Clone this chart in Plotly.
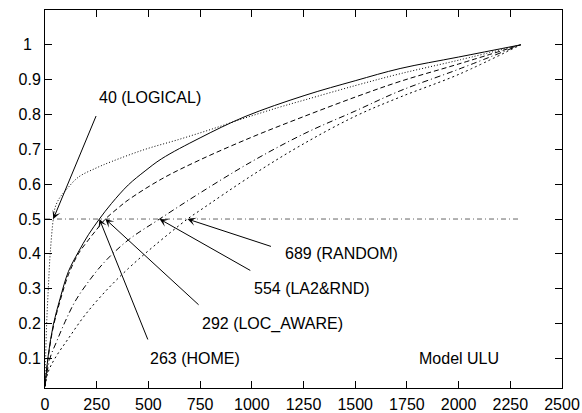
import plotly.graph_objects as go

# ---- data ----
home_x = [0, 16, 40, 73, 113, 161, 210, 263, 322, 403, 484, 564, 750, 967, 1257, 1500, 1717, 2000, 2300]
home_y = [0.02, 0.11, 0.196, 0.272, 0.349, 0.405, 0.455, 0.5, 0.545, 0.598, 0.638, 0.673, 0.733, 0.794, 0.855, 0.897, 0.932, 0.965, 1.0]

logical_x = [0, 3, 8, 16, 25, 40, 50, 70, 97, 161, 242, 322, 484, 645, 806, 967, 1128, 1257, 1500, 1717, 2000, 2300]
logical_y = [0.02, 0.1, 0.2, 0.3, 0.4, 0.5, 0.535, 0.56, 0.58, 0.62, 0.645, 0.665, 0.7, 0.728, 0.758, 0.79, 0.82, 0.842, 0.883, 0.917, 0.956, 1.0]

locaware_x = [0, 16, 40, 73, 113, 161, 210, 250, 292, 350, 403, 564, 750, 1000, 1233, 1500, 1717, 2000, 2300]
locaware_y = [0.02, 0.105, 0.19, 0.265, 0.34, 0.4, 0.44, 0.47, 0.5, 0.53, 0.555, 0.615, 0.67, 0.735, 0.79, 0.85, 0.895, 0.945, 1.0]

la2rnd_x = [0, 24, 56, 97, 145, 210, 290, 403, 554, 750, 1000, 1257, 1500, 1717, 2000, 2300]
la2rnd_y = [0.02, 0.1, 0.148, 0.205, 0.263, 0.32, 0.378, 0.44, 0.5, 0.575, 0.665, 0.746, 0.81, 0.868, 0.93, 1.0]

random_x = [0, 16, 48, 113, 193, 290, 403, 532, 689, 750, 1000, 1233, 1500, 1717, 2000, 2300]
random_y = [0.02, 0.062, 0.1, 0.157, 0.224, 0.291, 0.358, 0.425, 0.5, 0.525, 0.625, 0.71, 0.795, 0.85, 0.915, 1.0]

half_x = [0, 2300]
half_y = [0.5, 0.5]

x_ticks = [0, 250, 500, 750, 1000, 1250, 1500, 1750, 2000, 2250, 2500]
y_ticks = [0.1, 0.2, 0.3, 0.4, 0.5, 0.6, 0.7, 0.8, 0.9, 1.0]
y_ticktext = ["0.1", "0.2", "0.3", "0.4", "0.5", "0.6", "0.7", "0.8", "0.9", "1\u2007"]

# annotations: label, arrow tip, arrow tail, text position
ann_labels = ["40 (LOGICAL)", "263 (HOME)", "292 (LOC_AWARE)", "554 (LA2&RND)", "689 (RANDOM)"]
ann_tip_x = [40, 263, 292, 554, 689]
ann_tip_y = [0.5, 0.5, 0.5, 0.5, 0.5]
ann_tail_x = [250, 500, 750, 1000, 1100]
ann_tail_y = [0.8, 0.15, 0.25, 0.35, 0.42]
ann_text_x = [250, 500, 750, 1000, 1150]
ann_text_y = [0.85, 0.1, 0.2, 0.3, 0.4]

model_label = "Model ULU"
model_x, model_y = 1800, 0.1

FONT = "Liberation Sans, Arial, Helvetica, sans-serif"

fig = go.Figure()
fig.add_trace(go.Scatter(x=half_x, y=half_y, mode="lines",
                         line=dict(color="#666666", width=1, dash="5px,3px,1px,3px")))
fig.add_trace(go.Scatter(x=random_x, y=random_y, mode="lines", line_shape="spline",
                         line=dict(color="black", width=1, dash="2px,3px")))
fig.add_trace(go.Scatter(x=la2rnd_x, y=la2rnd_y, mode="lines", line_shape="spline",
                         line=dict(color="black", width=1, dash="6px,3px,1px,3px")))
fig.add_trace(go.Scatter(x=locaware_x, y=locaware_y, mode="lines", line_shape="spline",
                         line=dict(color="black", width=1, dash="5px,3px")))
fig.add_trace(go.Scatter(x=logical_x, y=logical_y, mode="lines", line_shape="spline",
                         line=dict(color="black", width=1, dash="1px,2px")))
fig.add_trace(go.Scatter(x=home_x, y=home_y, mode="lines", line_shape="spline",
                         line=dict(color="black", width=1)))

for i in range(len(ann_labels)):
    fig.add_annotation(x=ann_tip_x[i], y=ann_tip_y[i], xref="x", yref="y",
                       ax=ann_tail_x[i], ay=ann_tail_y[i], axref="x", ayref="y",
                       text="", showarrow=True, arrowhead=3, arrowsize=1.4,
                       arrowwidth=1, arrowcolor="black", standoff=0, startstandoff=0)
    fig.add_annotation(x=ann_text_x[i], y=ann_text_y[i], xref="x", yref="y",
                       text=ann_labels[i], showarrow=False, xanchor="left", yanchor="middle",
                       font=dict(family=FONT, size=16, color="black"))

fig.add_annotation(x=model_x, y=model_y, xref="x", yref="y", text=model_label,
                   showarrow=False, xanchor="left", yanchor="middle",
                   font=dict(family=FONT, size=16, color="black"))

axis_common = dict(showline=True, linecolor="black", linewidth=1, mirror="ticks",
                   ticks="inside", ticklen=7, tickcolor="black", tickwidth=1,
                   showgrid=False, zeroline=False, automargin=False,
                   tickfont=dict(family=FONT, size=16, color="black"))

fig.update_layout(
    width=582, height=413,
    margin=dict(l=45, r=20, t=10, b=25),
    paper_bgcolor="white", plot_bgcolor="white",
    showlegend=False,
    xaxis=dict(range=[0, 2500], tickvals=x_ticks, ticklabelstandoff=2, **axis_common),
    yaxis=dict(range=[0.015, 1.1], tickvals=y_ticks, ticktext=y_ticktext, ticklabelstandoff=0, **axis_common),
)

fig.write_html("out.html", config={"displayModeBar": False},
               post_script="document.body.style.margin='0';")
